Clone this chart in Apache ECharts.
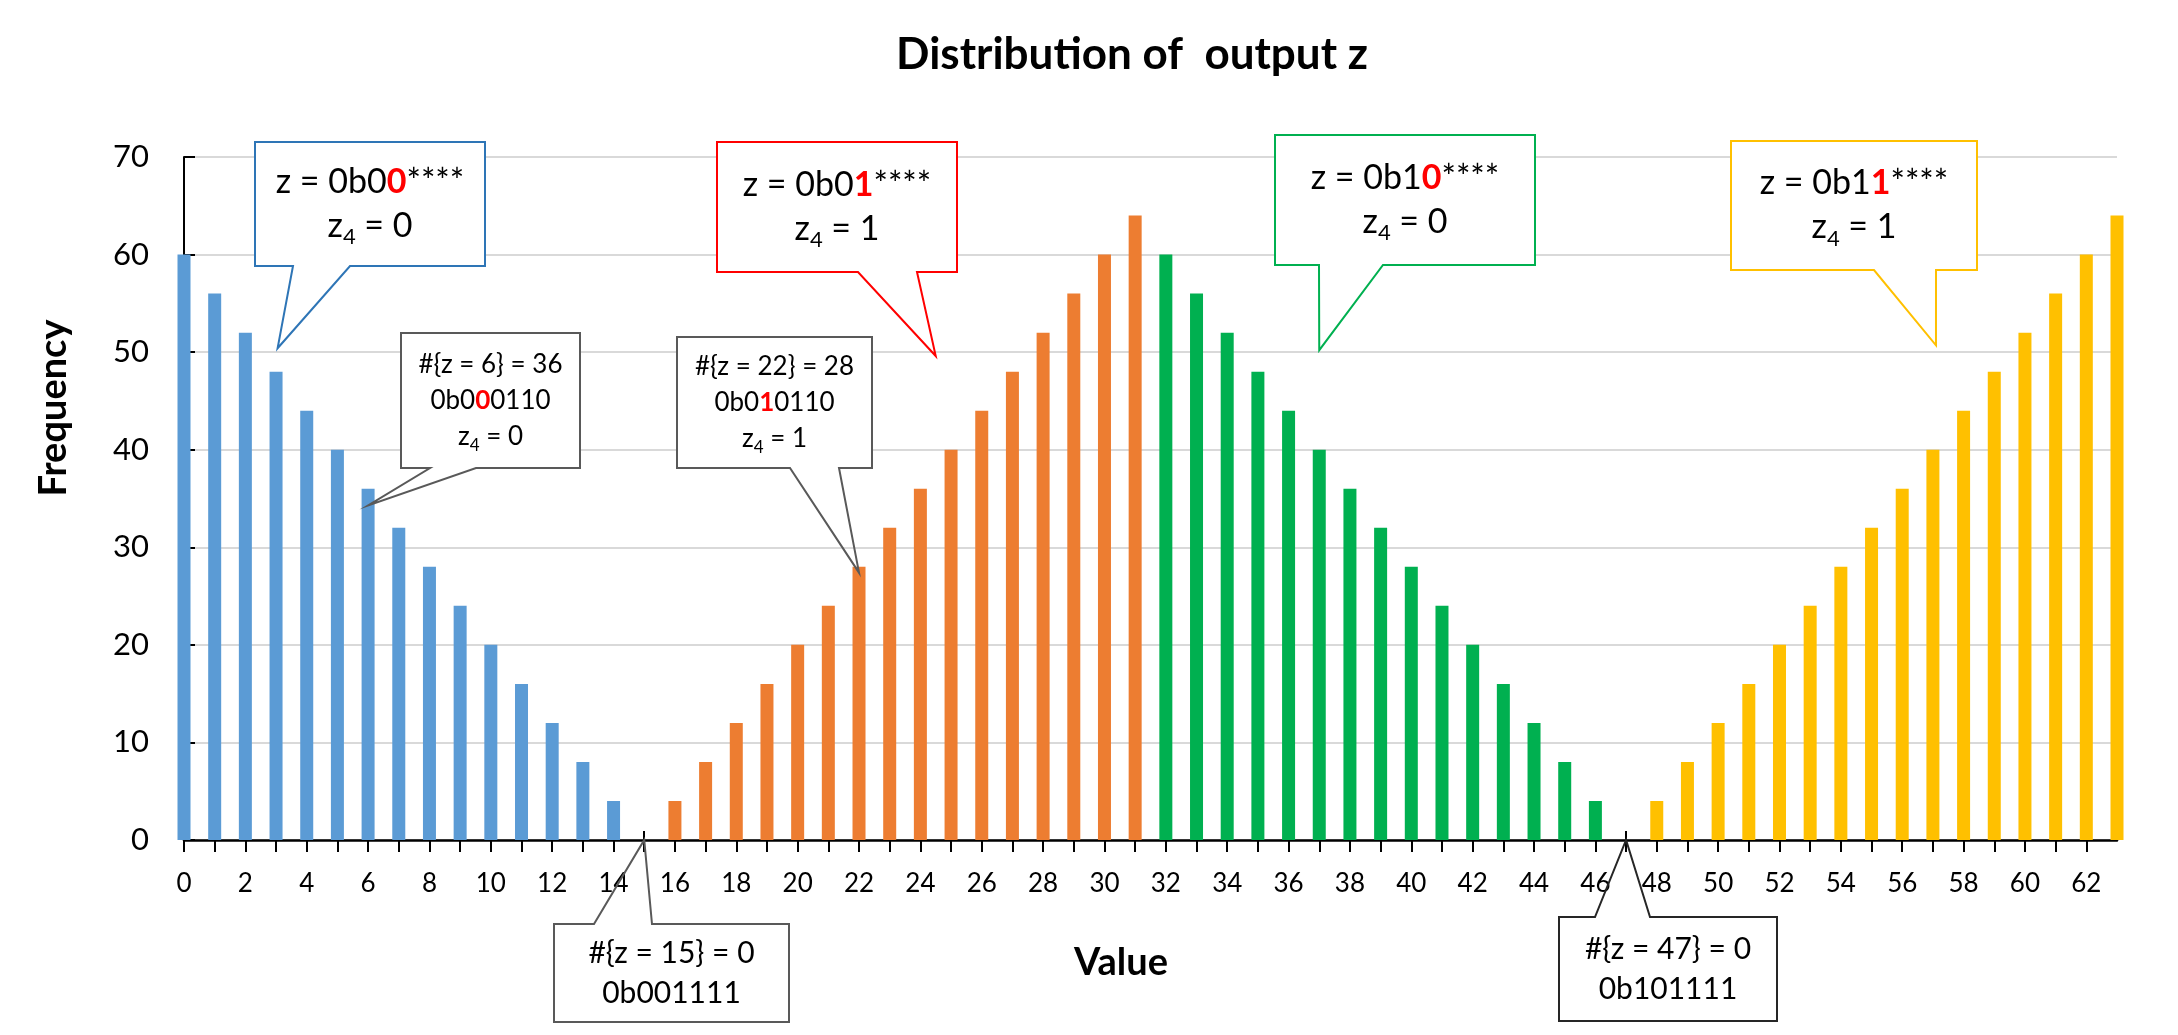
<!DOCTYPE html>
<html>
<head>
<meta charset="utf-8">
<script src="https://cdn.jsdelivr.net/npm/echarts@6/dist/echarts.min.js"></script>
<style>
html, body { margin: 0; padding: 0; background: #fff; }
#main { width: 2178px; height: 1035px; }
</style>
</head>
<body>
<div id="main"></div>
<script>
// values of z and how often each one shows up, one group per top-two-bits
var valuesBlue   = [0, 1, 2, 3, 4, 5, 6, 7, 8, 9, 10, 11, 12, 13, 14, 15];
var freqBlue     = [60, 56, 52, 48, 44, 40, 36, 32, 28, 24, 20, 16, 12, 8, 4, 0];
var valuesOrange = [16, 17, 18, 19, 20, 21, 22, 23, 24, 25, 26, 27, 28, 29, 30, 31];
var freqOrange   = [4, 8, 12, 16, 20, 24, 28, 32, 36, 40, 44, 48, 52, 56, 60, 64];
var valuesGreen  = [32, 33, 34, 35, 36, 37, 38, 39, 40, 41, 42, 43, 44, 45, 46, 47];
var freqGreen    = [60, 56, 52, 48, 44, 40, 36, 32, 28, 24, 20, 16, 12, 8, 4, 0];
var valuesGold   = [48, 49, 50, 51, 52, 53, 54, 55, 56, 57, 58, 59, 60, 61, 62, 63];
var freqGold     = [4, 8, 12, 16, 20, 24, 28, 32, 36, 40, 44, 48, 52, 56, 60, 64];

var FONT = 'Lato, "Open Sans", sans-serif';

function pairs(xs, ys) {
    var out = [];
    for (var i = 0; i < xs.length; i++) {
        out.push([xs[i], ys[i]]);
    }
    return out;
}

function barSeries(name, color, xs, ys) {
    return {
        name: name,
        type: 'bar',
        barWidth: 13,
        barGap: '-100%',
        clip: true,
        itemStyle: { color: color },
        data: pairs(xs, ys)
    };
}

var chart = echarts.init(document.getElementById('main'));

chart.setOption({
    animation: false,
    backgroundColor: '#fff',
    title: {
        text: 'Distribution of  output z',
        left: 1127,
        top: 28,
        textAlign: 'center',
        textStyle: { fontFamily: FONT, fontSize: 44, fontWeight: 'bold', color: '#000' }
    },
    grid: { left: 184, right: 61, top: 157, bottom: 195 },
    xAxis: [{
        type: 'value',
        min: 0,
        max: 63,
        interval: 1,
        axisLine: { lineStyle: { color: '#000', width: 2.5 } },
        axisTick: { length: 12, lineStyle: { color: '#000', width: 2 } },
        axisLabel: {
            fontFamily: FONT, fontSize: 26, color: '#000', margin: 31,
            showMaxLabel: false,
            formatter: function (v) { return v % 2 === 0 ? String(v) : ''; }
        },
        splitLine: { show: false }
    }, {
        // same scale again, only to draw the upper half of the crossing ticks
        type: 'value',
        min: 0,
        max: 63,
        interval: 1,
        position: 'bottom',
        axisLine: { show: false },
        axisTick: { inside: true, length: 9, lineStyle: { color: '#000', width: 2 } },
        axisLabel: { show: false },
        splitLine: { show: false }
    }],
    yAxis: {
        type: 'value',
        min: 0,
        max: 70,
        interval: 10,
        axisLine: { show: true, lineStyle: { color: '#000', width: 2 } },
        axisTick: { show: true, inside: true, length: 11, lineStyle: { color: '#000', width: 2 } },
        axisLabel: { fontFamily: FONT, fontSize: 31, color: '#000', margin: 35 },
        splitLine: { lineStyle: { color: '#D9D9D9', width: 2 } }
    },
    series: [
        barSeries('z = 0b00****', '#5B9BD5', valuesBlue, freqBlue),
        barSeries('z = 0b01****', '#ED7D31', valuesOrange, freqOrange),
        barSeries('z = 0b10****', '#00B050', valuesGreen, freqGreen),
        barSeries('z = 0b11****', '#FFC000', valuesGold, freqGold)
    ]
});

/*********************** callouts ***********************/
function richSet(size, lh) {
    return {
        n: { fontFamily: FONT, fontSize: size, fill: '#000', lineHeight: lh },
        r: { fontFamily: FONT, fontSize: size, fill: '#FF0000', fontWeight: 'bold', lineHeight: lh },
        s: { fontFamily: FONT, fontSize: Math.round(size * 0.66), fill: '#000',
             lineHeight: Math.round(lh * 0.5), verticalAlign: 'bottom' }
    };
}
var bigText = { size: 34, lh: 44 };
var smallText = { size: 26, lh: 36 };
var bottomText = { size: 30, lh: 40 };

// box = [x1, y1, x2, y2] in px, base = notch ends on that edge, tip in data units
// lines holding braces stay plain text, the rich parser would eat them
var callouts = [
    { box: [255, 142, 485, 266], side: 'bottom', base: [293, 350], tip: [3.05, 50.4], color: '#2E75B6', font: bigText,
      text: '{n|z = 0b0}{r|0}{n|****}\n{n|z}{s|4}{n| = 0}' },
    { box: [717, 142, 957, 272], side: 'bottom', base: [858, 917], tip: [24.5, 49.6], color: '#FF0000', font: bigText,
      text: '{n|z = 0b0}{r|1}{n|****}\n{n|z}{s|4}{n| = 1}' },
    { box: [1275, 135, 1535, 265], side: 'bottom', base: [1319, 1383], tip: [37, 50.2], color: '#00B050', font: bigText,
      text: '{n|z = 0b1}{r|0}{n|****}\n{n|z}{s|4}{n| = 0}' },
    { box: [1731, 141, 1977, 270], side: 'bottom', base: [1874, 1936], tip: [57.1, 50.7], color: '#FFC000', font: bigText,
      text: '{n|z = 0b1}{r|1}{n|****}\n{n|z}{s|4}{n| = 1}' },
    { box: [401, 333, 580, 468], side: 'bottom', base: [430, 476], tip: [6, 34.3], color: '#595959', font: smallText,
      text: '#{z = 6} = 36\n{n|0b0}{r|0}{n|0110}\n{n|z}{s|4}{n| = 0}' },
    { box: [677, 337, 872, 468], side: 'bottom', base: [790, 839], tip: [22, 27.4], color: '#595959', font: smallText,
      text: '#{z = 22} = 28\n{n|0b0}{r|1}{n|0110}\n{n|z}{s|4}{n| = 1}' },
    { box: [554, 924, 789, 1022], side: 'top', base: [594, 652], tip: [15, 0], color: '#595959', font: bottomText,
      text: '#{z = 15} = 0\n0b001111' },
    { box: [1559, 917, 1777, 1021], side: 'top', base: [1595, 1650], tip: [47, 0], color: '#262626', font: bottomText,
      text: '#{z = 47} = 0\n0b101111' }
];

function calloutGraphics(c) {
    var tip = chart.convertToPixel({ xAxisIndex: 0, yAxisIndex: 0 }, c.tip);
    var x1 = c.box[0], y1 = c.box[1], x2 = c.box[2], y2 = c.box[3];
    var pts;
    if (c.side === 'bottom') {
        pts = [[x1, y1], [x2, y1], [x2, y2], [c.base[1], y2], tip, [c.base[0], y2], [x1, y2]];
    } else {
        pts = [[x1, y2], [x1, y1], [c.base[0], y1], tip, [c.base[1], y1], [x2, y1], [x2, y2]];
    }
    return [{
        type: 'rect',
        shape: { x: x1, y: y1, width: x2 - x1, height: y2 - y1 },
        style: { fill: '#fff' },
        z: 100
    }, {
        type: 'polygon',
        shape: { points: pts },
        style: { fill: 'none', stroke: c.color, lineWidth: 2 },
        z: 101
    }, {
        type: 'text',
        x: (x1 + x2) / 2,
        y: (y1 + y2) / 2,
        style: {
            text: c.text,
            rich: richSet(c.font.size, c.font.lh),
            fontFamily: FONT,
            fontSize: c.font.size,
            lineHeight: c.font.lh,
            fill: '#000',
            align: 'center',
            verticalAlign: 'middle'
        },
        z: 102
    }];
}

var graphics = [];
for (var i = 0; i < callouts.length; i++) {
    graphics = graphics.concat(calloutGraphics(callouts[i]));
}

// axis titles, placed where the original puts them (not centred on the axes)
graphics.push({
    type: 'text',
    x: 1121,
    y: 963,
    style: { text: 'Value', fontFamily: FONT, fontSize: 38, fontWeight: 'bold', fill: '#000',
             align: 'center', verticalAlign: 'middle' }
});
graphics.push({
    type: 'text',
    x: 54,
    y: 408,
    rotation: Math.PI / 2,
    style: { text: 'Frequency', fontFamily: FONT, fontSize: 38, fontWeight: 'bold', fill: '#000',
             align: 'center', verticalAlign: 'middle' }
});

chart.setOption({ graphic: graphics });
/*********************** callouts end ***********************/
</script>
</body>
</html>
